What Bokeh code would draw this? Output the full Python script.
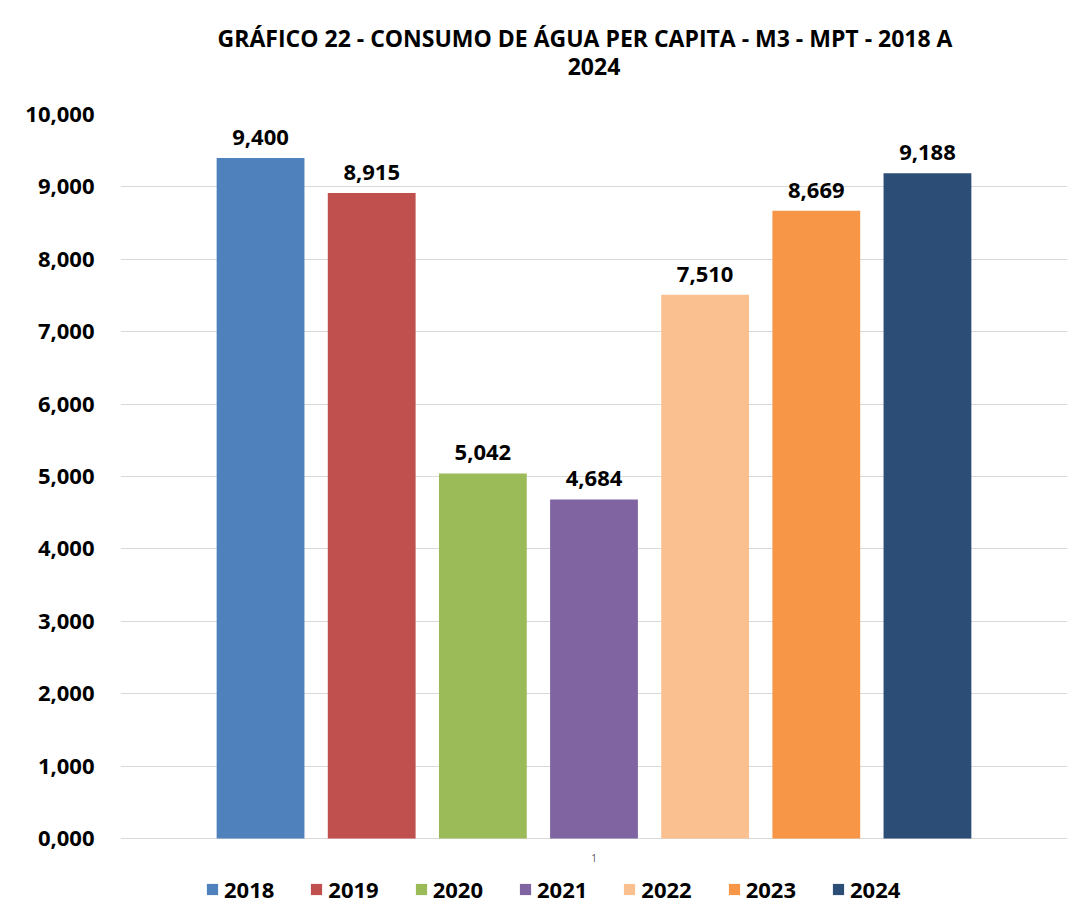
from bokeh.plotting import figure
from bokeh.models import ColumnDataSource, Range1d, FixedTicker, Legend, LegendItem, Title
from bokeh.core.properties import value
from bokeh.embed import file_html
from bokeh.resources import INLINE

years = ["2018", "2019", "2020", "2021", "2022", "2023", "2024"]
consumo = [9.400, 8.915, 5.042, 4.684, 7.510, 8.669, 9.188]
colors = ["#4F81BD", "#C0504D", "#9BBB59", "#8064A2", "#FAC090", "#F79646", "#2C4D75"]
y_ticks = [0, 1, 2, 3, 4, 5, 6, 7, 8, 9, 10]
y_tick_labels = ["0,000", "1,000", "2,000", "3,000", "4,000", "5,000",
                 "6,000", "7,000", "8,000", "9,000", "10,000"]
category_label = "1"
title_line1 = "GRÁFICO 22  -  CONSUMO DE ÁGUA  PER CAPITA - M3 - MPT - 2018 A"
title_line2 = "2024"

FONT = "Open Sans"

def fmt(v):
    return f"{v:.3f}".replace(".", ",")

xpos = list(range(len(years)))
src = ColumnDataSource(dict(x=xpos, y=consumo, color=colors, year=years,
                            label=[fmt(v) for v in consumo]))

# y range extends below zero to leave room for the category label and legend
p = figure(width=1067, height=907, output_backend="svg", toolbar_location=None,
           x_range=Range1d(-1.26, 7.26), y_range=Range1d(-0.953, 10),
           min_border_left=120, min_border_right=0, min_border_top=114,
           min_border_bottom=0)

p.title.text = title_line1
p.title.align = "center"
p.title.text_font = FONT
p.title.text_font_size = "23px"
p.title.text_font_style = "bold"
p.title.text_color = "#000000"
p.title.standoff = 4
spacer = Title(text=" ", align="center", text_font=FONT, text_font_size="28px",
               standoff=0)
p.add_layout(spacer, "above")
t2 = Title(text=title_line2, align="center", text_font=FONT, text_font_size="23px",
           text_font_style="bold", text_color="#000000", standoff=0)
p.add_layout(t2, "above")

r = p.vbar(x="x", top="y", width=0.79, bottom=0, source=src, color="color",
           line_color=None)

p.text(x="x", y="y", text="label", source=src, text_align="center",
       text_baseline="bottom", y_offset=-13, text_font=value(FONT),
       text_font_size="22px", text_font_style="bold", text_color="#000000")

# single category label under the group of bars
p.text(x=[sum(xpos) / len(xpos)], y=[0], text=[category_label], text_align="center",
       text_baseline="middle", y_offset=19, text_font=value(FONT),
       text_font_size="10px", text_color="#595959")

# axes
p.yaxis.ticker = FixedTicker(ticks=y_ticks)
p.yaxis.major_label_overrides = {t: l for t, l in zip(y_ticks, y_tick_labels)}
p.yaxis.major_label_text_font = FONT
p.yaxis.major_label_text_font_size = "22px"
p.yaxis.major_label_text_font_style = "bold"
p.yaxis.major_label_text_color = "#000000"
p.yaxis.axis_line_color = None
p.yaxis.major_tick_line_color = None
p.yaxis.minor_tick_line_color = None
p.yaxis.major_label_standoff = 20

p.xaxis.visible = False

p.xgrid.grid_line_color = None
p.ygrid.grid_line_color = "#d9d9d9"
p.outline_line_color = None

items = [LegendItem(label=y, renderers=[r], index=i) for i, y in enumerate(years)]
legend = Legend(items=items, orientation="horizontal", location=(85, 3),
                label_text_font=FONT, label_text_font_size="22px",
                label_text_font_style="bold", label_text_color="#000000",
                glyph_width=14, glyph_height=14, label_standoff=5, spacing=35,
                border_line_color=None, background_fill_alpha=0, padding=0, margin=0)
p.add_layout(legend, "center")

open("out.html", "w").write(file_html(p, INLINE))
